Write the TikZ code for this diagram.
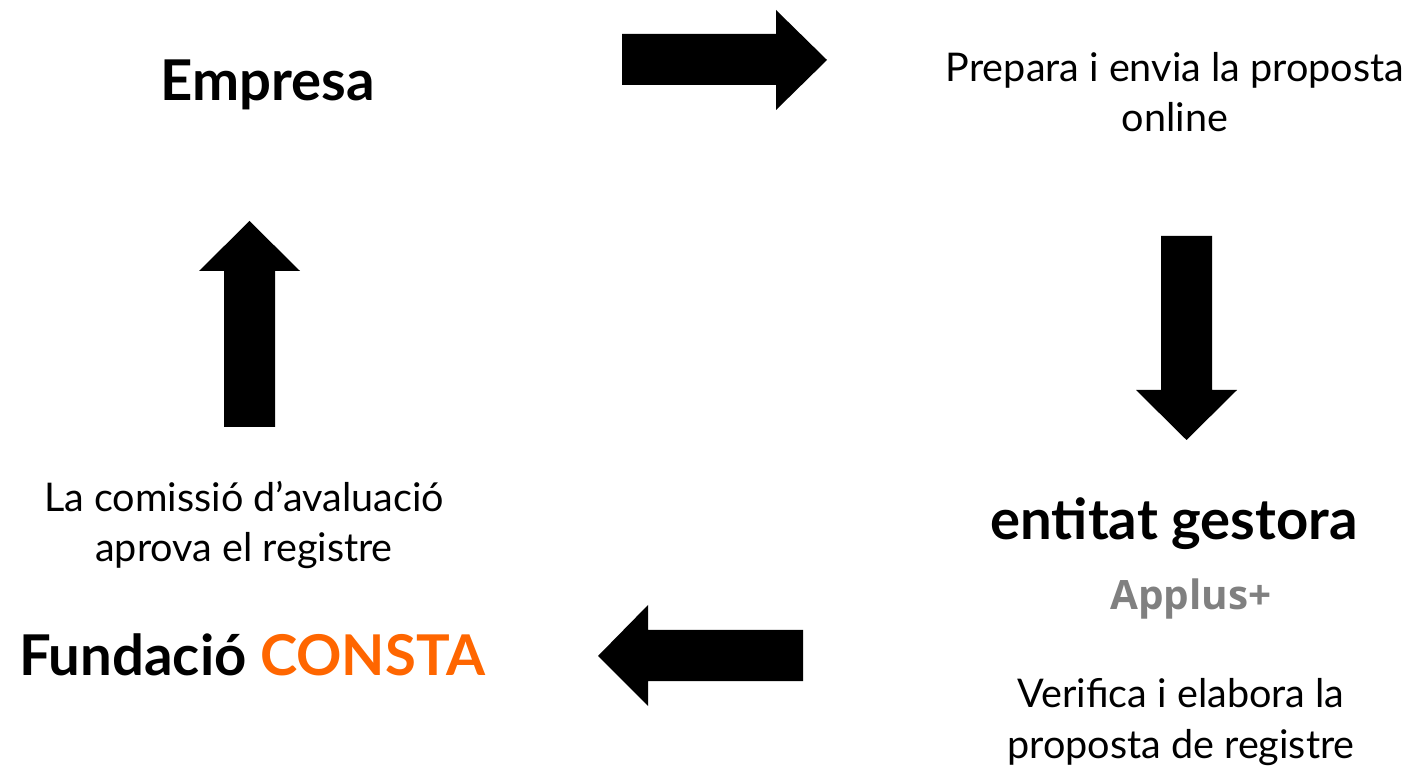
\documentclass[tikz,border=0pt]{standalone}
\usepackage{fontspec}
\setmainfont{Lato}
\newfontfamily\applusfont{Open Sans}
\usepackage{tikz}

\definecolor{constaorange}{RGB}{255,102,0}
\definecolor{applusgray}{RGB}{128,128,128}

\begin{document}
\begin{tikzpicture}[x=0.2mm,y=-0.2mm,
  actor/.style={font=\fontsize{32}{34}\selectfont\bfseries,inner sep=0pt},
  desc/.style={align=center,font=\fontsize{22.5}{21.6}\selectfont,inner sep=0pt},
  blockarrow/.style={fill=black}]
\useasboundingbox (0,0) rectangle (1409,768);

% the four parties and what they do
\node[actor,anchor=base] (empresa) at (268,101) {Empresa};
\node[desc,anchor=base] (prepara) at (1175,132) {Prepara i envia la proposta\\[7pt]online};
\node[actor,anchor=base] (entitat) at (1174,540) {entitat gestora};
\node[anchor=base,inner sep=0pt,font=\applusfont\fontsize{23}{24}\selectfont\bfseries,text=applusgray] (applus) at (1191,610) {Applus+};
\node[desc,anchor=base] (verifica) at (1181,758) {Verifica i elabora la\\[7pt]proposta de registre};
\node[actor,anchor=base] (fundacio) at (252,675) {Fundació \textcolor{constaorange}{CONSTA}};
\node[desc,anchor=base] (comissio) at (244,562) {La comissió d’avaluació\\[7pt]aprova el registre};

% block arrows
\fill[blockarrow] (622,34) -- (776,34) -- (776,10) -- (827,60) -- (776,110) -- (776,85) -- (622,85) -- cycle;
\fill[blockarrow] (1161,236) -- (1212,236) -- (1212,390) -- (1237,390) -- (1186.5,440) -- (1136,390) -- (1161,390) -- cycle;
\fill[blockarrow] (803,630) -- (803,681) -- (648,681) -- (648,706) -- (598,656) -- (648,605) -- (648,630) -- cycle;
\fill[blockarrow] (224,427) -- (275,427) -- (275,271) -- (300,271) -- (249.5,221) -- (199,271) -- (224,271) -- cycle;
\end{tikzpicture}
\end{document}
